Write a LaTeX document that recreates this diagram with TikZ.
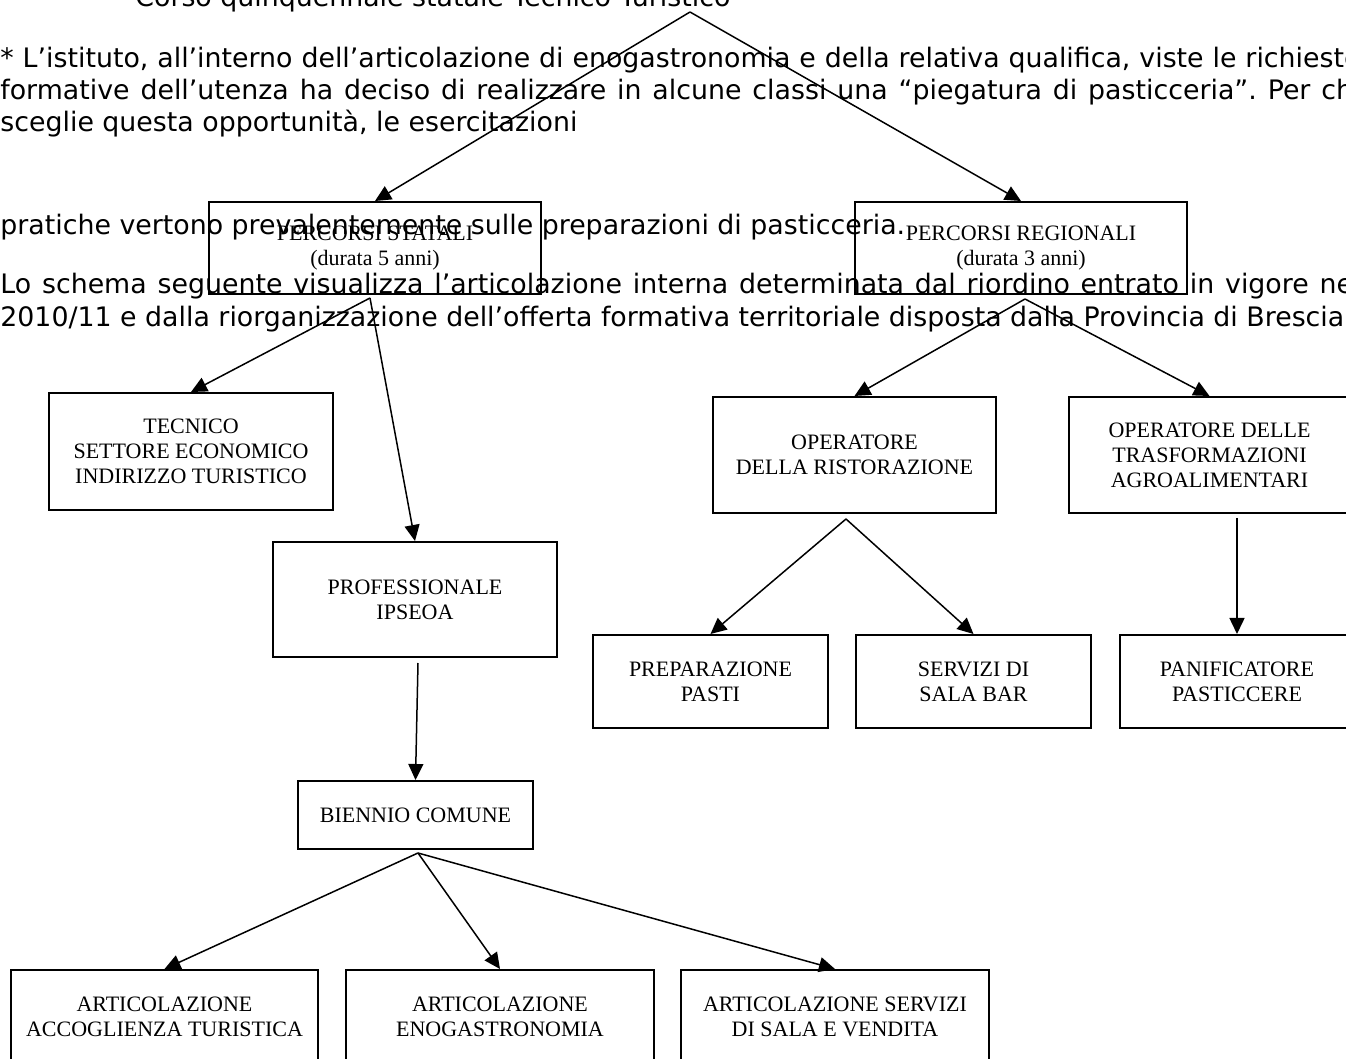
\documentclass[tikz,border=0pt]{standalone}
\usepackage{fontspec}
\setmainfont{Liberation Serif}
\newfontfamily\verdanalike{DejaVu Sans}
\usetikzlibrary{arrows.meta}

\newcommand\boxfont{\fontsize{11pt}{12.5pt}\selectfont}
\newcommand\bodyfont{\verdanalike\fontsize{13.4pt}{16pt}\selectfont\frenchspacing}

\begin{document}
\begin{tikzpicture}
  [x=0.5pt,y=-0.5pt,
   box/.style={draw, line width=1pt, align=center, inner sep=0pt, font=\boxfont},
   row/.style={anchor=base west, inner sep=0pt, font=\bodyfont},
   link/.style={line width=0.75pt, -{Triangle[length=8pt,width=7.5pt]}}]
  \useasboundingbox (0,0) rectangle (1346,1059);

  % running text behind the scheme
  \node[row] (head) at (135,7) {Corso quinquennale statale Tecnico Turistico};
  \node[row] (l1) at (0,68)  {\makebox[680pt][s]{* L’istituto, all’interno dell’articolazione di enogastronomia e della relativa qualifica, viste le richieste}};
  \node[row] (l2) at (0,100) {\makebox[680pt][s]{formative dell’utenza ha deciso di realizzare in alcune classi una “piegatura di pasticceria”. Per chi}};
  \node[row] (l3) at (0,132) {sceglie questa opportunità, le esercitazioni};
  \node[row] (l4) at (0,235) {pratiche vertono prevalentemente sulle preparazioni di pasticceria.};
  \node[row] (l5) at (0,294) {\makebox[680pt][s]{Lo schema seguente visualizza l’articolazione interna determinata dal riordino entrato in vigore nel}};
  \node[row] (l6) at (0,327) {2010/11 e dalla riorganizzazione dell’offerta formativa territoriale disposta dalla Provincia di Brescia.};

  % boxes
  \node[box, minimum width=166pt, minimum height=46pt] (stat) at (375,248) {PERCORSI STATALI\\(durata 5 anni)};
  \node[box, minimum width=166pt, minimum height=46pt] (reg) at (1021,248) {PERCORSI REGIONALI\\(durata 3 anni)};
  \node[box, minimum width=142pt, minimum height=58.5pt] (tec) at (191,451.5) {TECNICO\\SETTORE ECONOMICO\\INDIRIZZO TURISTICO};
  \node[box, minimum width=142pt, minimum height=57.5pt] (prof) at (415,599.5) {PROFESSIONALE\\IPSEOA};
  \node[box, minimum width=117.5pt, minimum height=34pt] (bien) at (415.5,815) {BIENNIO COMUNE};
  \node[box, minimum width=141.5pt, minimum height=58pt] (oprist) at (854.5,455) {OPERATORE\\DELLA RISTORAZIONE};
  \node[box, minimum width=140.5pt, minimum height=58pt] (optrasf) at (1209.5,455) {OPERATORE DELLE\\TRASFORMAZIONI\\AGROALIMENTARI};
  \node[box, minimum width=117.5pt, minimum height=46.5pt] (prep) at (710.5,681.5) {PREPARAZIONE\\PASTI};
  \node[box, minimum width=117.5pt, minimum height=46.5pt] (sala) at (973.5,681.5) {SERVIZI DI\\SALA BAR};
  \node[box, minimum width=117pt, minimum height=46.5pt] (panif) at (1237,681.5) {PANIFICATORE\\PASTICCERE};
  \node[box, minimum width=153.5pt, minimum height=46.5pt] (acc) at (164.5,1016.5) {ARTICOLAZIONE\\ACCOGLIENZA TURISTICA};
  \node[box, minimum width=154pt, minimum height=46.5pt] (eno) at (500,1016.5) {ARTICOLAZIONE\\ENOGASTRONOMIA};
  \node[box, minimum width=154pt, minimum height=46.5pt] (vend) at (835,1016.5) {ARTICOLAZIONE SERVIZI\\DI SALA E VENDITA};

  % starting points of the arrows
  \coordinate (top) at (690,12);
  \coordinate (stat-o) at (370,298);
  \coordinate (reg-o) at (1025,299);
  \coordinate (prof-o) at (418,663);
  \coordinate (oprist-o) at (846,519);
  \coordinate (optrasf-o) at (1237,518);
  \coordinate (bien-o) at (418,853);

  \foreach \from/\to in {top/stat,top/reg,stat-o/tec,stat-o/prof,prof-o/bien,reg-o/oprist,reg-o/optrasf,oprist-o/prep,oprist-o/sala,optrasf-o/panif,bien-o/acc,bien-o/eno,bien-o/vend}
    \draw[link] (\from) -- (\to.north);
\end{tikzpicture}
\end{document}
